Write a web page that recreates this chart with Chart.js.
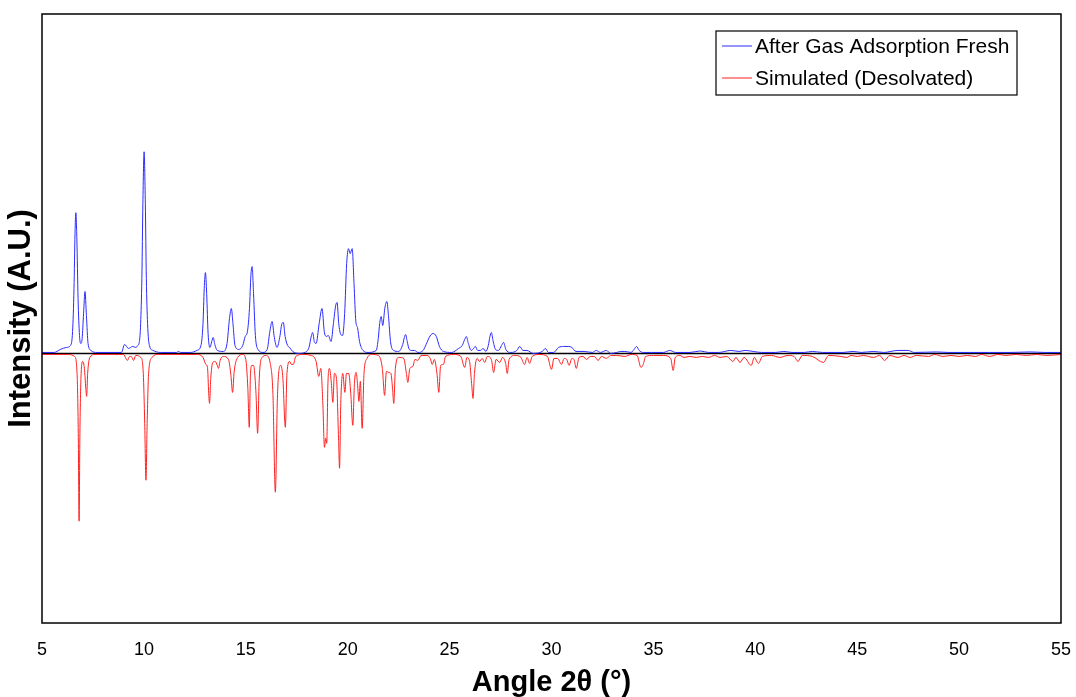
<!DOCTYPE html>
<html>
<head>
<meta charset="utf-8">
<title>PXRD</title>
<script src="https://cdn.jsdelivr.net/npm/chart.js@4.4.1/dist/chart.umd.min.js"></script>
<style>
  html, body { margin: 0; padding: 0; background: #fff; }
  #wrap { width: 1076px; height: 697px; }
</style>
</head>
<body>
<div id="wrap"><canvas id="xrd" width="1076" height="697"></canvas></div>
<script>
// x axis ticks (2-theta, degrees)
const angleTicks = [5, 10, 15, 20, 25, 30, 35, 40, 45, 50, 55];

// measured pattern after gas adsorption: [2theta, intensity]
const freshPattern = [
    [5.0, 1], [5.6, 1], [5.9, 4], [6.2, 6], [6.4, 8], [6.5, 22], [6.57, 65], [6.62, 120], [6.66, 141],
    [6.71, 115], [6.77, 55], [6.84, 18], [6.9, 10], [6.97, 15], [7.04, 40], [7.11, 62], [7.18, 38],
    [7.26, 10], [7.4, 3], [7.7, 1], [8.9, 1], [9.05, 9], [9.25, 5], [9.45, 7], [9.6, 6], [9.7, 8],
    [9.78, 12], [9.84, 30], [9.9, 75], [9.95, 150], [10.01, 202], [10.07, 150], [10.12, 75],
    [10.18, 30], [10.27, 8], [10.45, 3], [10.8, 1], [11.6, 1], [11.7, 2], [11.8, 1], [12.3, 1],
    [12.6, 3], [12.8, 8], [12.9, 30], [12.96, 65], [13.02, 81], [13.08, 60], [13.15, 20], [13.24, 6],
    [13.33, 12], [13.4, 16], [13.48, 9], [13.6, 3], [13.9, 2], [14.08, 10], [14.2, 35], [14.29, 45],
    [14.37, 30], [14.47, 8], [14.65, 4], [14.85, 8], [14.97, 17], [15.08, 22], [15.18, 45],
    [15.25, 78], [15.31, 87], [15.38, 60], [15.47, 18], [15.6, 4], [15.85, 1], [16.05, 4],
    [16.18, 22], [16.29, 32], [16.4, 16], [16.53, 6], [16.68, 18], [16.76, 29], [16.84, 31],
    [16.93, 17], [17.05, 8], [17.15, 6], [17.3, 2], [17.6, 0], [17.9, 1], [18.1, 6], [18.22, 18],
    [18.28, 21], [18.36, 12], [18.45, 10], [18.6, 30], [18.74, 45], [18.85, 22], [18.95, 17],
    [19.05, 18], [19.18, 12], [19.3, 30], [19.41, 48], [19.48, 51], [19.56, 30], [19.66, 19],
    [19.75, 18], [19.85, 40], [19.95, 90], [20.04, 105], [20.12, 100], [20.22, 105], [20.31, 70],
    [20.4, 32], [20.48, 26], [20.58, 12], [20.75, 3], [21.0, 1], [21.4, 3], [21.5, 15], [21.57, 30],
    [21.64, 37], [21.72, 28], [21.82, 45], [21.92, 52], [22.0, 38], [22.1, 12], [22.25, 3],
    [22.5, 2], [22.7, 9], [22.78, 16], [22.84, 19], [22.92, 12], [23.02, 4], [23.15, 3],
    [23.28, 3], [23.45, 1], [23.7, 3], [23.85, 9], [24.0, 16], [24.18, 20], [24.35, 17],
    [24.5, 7], [24.7, 2], [25.1, 1], [25.44, 5], [25.62, 8], [25.74, 14], [25.82, 17], [25.92, 10],
    [26.06, 3], [26.18, 5], [26.26, 7], [26.38, 3], [26.52, 3], [26.64, 5], [26.78, 2], [26.9, 8],
    [26.98, 17], [27.05, 21], [27.13, 13], [27.25, 4], [27.4, 3], [27.55, 8], [27.65, 11],
    [27.76, 4], [28.0, 1], [28.3, 3], [28.44, 7], [28.6, 3], [28.8, 3], [29.1, 0], [29.55, 2],
    [29.7, 5], [29.85, 1], [30.1, 1], [30.35, 6], [30.6, 7], [30.85, 7], [31.0, 6], [31.2, 2],
    [31.6, 2], [32.0, 1], [32.2, 3], [32.4, 1], [32.7, 3], [32.9, 0], [33.2, 1], [33.4, 2],
    [33.6, 2], [33.9, 1], [34.05, 4], [34.17, 7], [34.3, 3], [34.5, 1], [34.9, 1], [35.5, 1],
    [35.8, 3], [36.1, 1], [36.8, 1], [37.3, 2.5], [37.7, 1], [38.2, 1], [38.8, 3], [39.2, 2],
    [39.5, 3], [39.9, 2], [40.3, 1], [41.0, 1], [41.4, 2], [41.8, 1], [42.4, 1], [42.8, 2],
    [43.3, 1], [44.3, 1], [44.8, 2], [45.2, 1], [45.8, 2], [46.3, 1], [47.0, 3], [47.5, 3],
    [47.8, 1], [48.9, 1.5], [49.5, 1], [50.5, 1], [51.5, 1], [52.5, 1], [53.5, 1.5], [54.2, 1],
    [55.0, 1]
];

// simulated desolvated pattern, plotted downwards: [2theta, -intensity]
const simulatedPattern = [
    [5.0, -1], [6.3, -1], [6.6, -3], [6.72, -20], [6.78, -80], [6.82, -168], [6.86, -80], [6.92, -20],
    [7.0, -8], [7.08, -15], [7.15, -35], [7.19, -43], [7.24, -20], [7.35, -4], [7.6, -1], [9.0, -1],
    [9.12, -5], [9.19, -7], [9.3, -3], [9.42, -4], [9.49, -7], [9.6, -2], [9.85, -4], [9.97, -20],
    [10.04, -70], [10.1, -127], [10.16, -70], [10.23, -20], [10.4, -4], [10.7, -1], [12.6, -1],
    [12.9, -4], [13.04, -11], [13.12, -14], [13.18, -40], [13.22, -50], [13.28, -25], [13.38, -9],
    [13.5, -8], [13.6, -12], [13.66, -15], [13.74, -7], [13.9, -3], [14.15, -6], [14.27, -22],
    [14.35, -39], [14.43, -18], [14.6, -4], [14.85, -1], [15.0, -6], [15.1, -35], [15.17, -74],
    [15.23, -20], [15.3, -12], [15.38, -12], [15.5, -40], [15.58, -80], [15.66, -25], [15.8, -4],
    [16.0, -2], [16.2, -10], [16.33, -40], [16.45, -139], [16.55, -45], [16.65, -14], [16.72, -12],
    [16.82, -25], [16.94, -74], [17.02, -20], [17.15, -8], [17.24, -11], [17.33, -11], [17.45, -3],
    [17.8, -1], [18.2, -2], [18.45, -8], [18.58, -23], [18.68, -15], [18.78, -50], [18.86, -94],
    [18.92, -85], [18.97, -90], [19.03, -30], [19.1, -15], [19.2, -30], [19.27, -49], [19.35, -20],
    [19.45, -25], [19.55, -85], [19.6, -115], [19.66, -50], [19.76, -20], [19.86, -39], [19.94, -20],
    [20.05, -20], [20.15, -40], [20.25, -72], [20.33, -30], [20.41, -19], [20.48, -30], [20.55, -48],
    [20.62, -28], [20.71, -75], [20.8, -20], [20.95, -5], [21.2, -1], [21.5, -2], [21.7, -15],
    [21.81, -42], [21.9, -18], [22.02, -19], [22.12, -20], [22.2, -35], [22.26, -50], [22.34, -15],
    [22.5, -4], [22.75, -5], [22.88, -20], [22.95, -29], [23.05, -15], [23.2, -13], [23.3, -6],
    [23.44, -7], [23.6, -2], [23.9, -2], [24.05, -5], [24.15, -11], [24.25, -6], [24.38, -20],
    [24.47, -39], [24.56, -12], [24.7, -11], [24.8, -3], [25.2, -1], [25.55, -3], [25.74, -14],
    [25.85, -4], [25.98, -8], [26.08, -30], [26.15, -45], [26.22, -20], [26.35, -5], [26.47, -8],
    [26.6, -5], [26.72, -9], [26.85, -3], [27.05, -6], [27.16, -19], [27.28, -6], [27.46, -9],
    [27.6, -4], [27.75, -10], [27.83, -20], [27.92, -6], [28.2, -2], [28.5, -4], [28.68, -11],
    [28.8, -4], [28.93, -10], [29.05, -3], [29.4, -1], [29.8, -3], [30.0, -16], [30.12, -5],
    [30.3, -5], [30.49, -11], [30.62, -5], [30.75, -6], [30.86, -12], [31.0, -5], [31.1, -6],
    [31.22, -15], [31.35, -4], [31.55, -3], [31.72, -6], [31.9, -3], [32.1, -3], [32.29, -7],
    [32.45, -3], [32.7, -5], [32.9, -2], [33.2, -2], [33.6, -3], [33.9, -1], [34.2, -2],
    [34.39, -14], [34.5, -11], [34.62, -3], [35.0, -2], [35.5, -2], [35.85, -5], [35.97, -17],
    [36.07, -4], [36.3, -2], [36.5, -4], [36.8, -3], [37.1, -4], [37.4, -3], [37.7, -4], [38.0, -2],
    [38.27, -4], [38.6, -3], [38.9, -8], [39.05, -4], [39.25, -9], [39.45, -4], [39.8, -12],
    [39.95, -4], [40.15, -10], [40.35, -3], [40.8, -2], [41.2, -4], [41.6, -2], [41.9, -3],
    [42.1, -8], [42.3, -2], [42.8, -3], [43.34, -9], [43.6, -2], [44.2, -3], [44.49, -4], [44.7, -2],
    [45.0, -3], [45.3, -2], [45.8, -4], [46.1, -2], [46.34, -7], [46.6, -2], [47.0, -4], [47.3, -2],
    [47.6, -4], [47.9, -2], [48.5, -3], [48.8, -1], [49.2, -3], [49.6, -2], [50.0, -3], [50.4, -2],
    [50.8, -3], [51.1, -1], [51.5, -3], [51.9, -1], [52.3, -2], [52.8, -1], [53.3, -2], [53.8, -1],
    [54.3, -2], [55.0, -1]
];

const seriesNames = ['After Gas Adsorption Fresh', 'Simulated (Desolvated)'];
const seriesColors = ['#2b2bff', '#ff2020'];

const FONT = '"Liberation Sans", Arial, sans-serif';

const toPoints = (pairs) => pairs.map(p => ({ x: p[0], y: p[1] }));

// box around the plot area
const framePlugin = {
    id: 'frame',
    afterDraw(chart) {
        const { ctx, chartArea: a } = chart;
        ctx.save();
        ctx.strokeStyle = '#000';
        ctx.lineWidth = 1.5;
        ctx.strokeRect(a.left, a.top, a.right - a.left, a.bottom - a.top);
        ctx.restore();
    }
};

// legend box in the upper right corner
const boxLegendPlugin = {
    id: 'boxLegend',
    afterDraw(chart) {
        const ctx = chart.ctx;
        const x0 = 716, y0 = 31, w = 301, h = 64;
        ctx.save();
        ctx.fillStyle = '#fff';
        ctx.fillRect(x0, y0, w, h);
        ctx.strokeStyle = '#000';
        ctx.lineWidth = 1.2;
        ctx.strokeRect(x0, y0, w, h);
        ctx.font = '21px ' + FONT;
        ctx.textBaseline = 'middle';
        seriesNames.forEach((name, i) => {
            const y = y0 + 15 + i * 32;
            ctx.strokeStyle = seriesColors[i];
            ctx.lineWidth = 1;
            ctx.beginPath();
            ctx.moveTo(x0 + 6, y);
            ctx.lineTo(x0 + 36, y);
            ctx.stroke();
            ctx.fillStyle = '#000';
            ctx.fillText(name, x0 + 39, y + 1);
        });
        ctx.restore();
    }
};

new Chart(document.getElementById('xrd').getContext('2d'), {
    type: 'line',
    data: {
        datasets: [
            {
                label: seriesNames[0],
                data: toPoints(freshPattern),
                borderColor: seriesColors[0],
                borderWidth: 1,
                pointRadius: 0,
                cubicInterpolationMode: 'monotone'
            },
            {
                label: seriesNames[1],
                data: toPoints(simulatedPattern),
                borderColor: seriesColors[1],
                borderWidth: 1,
                pointRadius: 0,
                cubicInterpolationMode: 'monotone'
            },
            {
                label: 'zero',
                data: [{ x: 5, y: 0 }, { x: 55, y: 0 }],
                borderColor: '#000',
                borderWidth: 1.6,
                pointRadius: 0
            }
        ]
    },
    options: {
        responsive: false,
        animation: false,
        devicePixelRatio: 1,
        layout: { padding: { top: 14, right: 15, left: 0, bottom: 0 } },
        plugins: {
            legend: { display: false },
            tooltip: { enabled: false }
        },
        scales: {
            x: {
                type: 'linear',
                min: 5,
                max: 55,
                afterBuildTicks: (axis) => { axis.ticks = angleTicks.map(v => ({ value: v })); },
                afterFit: (axis) => {
                    axis.height = 74;
                    axis.paddingLeft = 0;
                    axis.paddingRight = 0;
                },
                ticks: { color: '#000', padding: 8, maxRotation: 0, font: { family: FONT, size: 18 } },
                grid: { display: false },
                border: { display: false },
                title: {
                    display: true,
                    text: 'Angle 2θ (°)',
                    color: '#000',
                    font: { family: FONT, size: 29, weight: 'bold', lineHeight: 1.0 },
                    padding: { top: 4, bottom: 0 }
                }
            },
            y: {
                min: -270,
                max: 340,
                afterFit: (axis) => { axis.width = 42; },
                ticks: { display: false },
                grid: { display: false },
                border: { display: false },
                title: {
                    display: true,
                    text: 'Intensity (A.U.)',
                    color: '#000',
                    font: { family: FONT, size: 31, weight: 'bold' },
                    padding: { top: 3, bottom: 2 }
                }
            }
        }
    },
    plugins: [framePlugin, boxLegendPlugin]
});
</script>
</body>
</html>
